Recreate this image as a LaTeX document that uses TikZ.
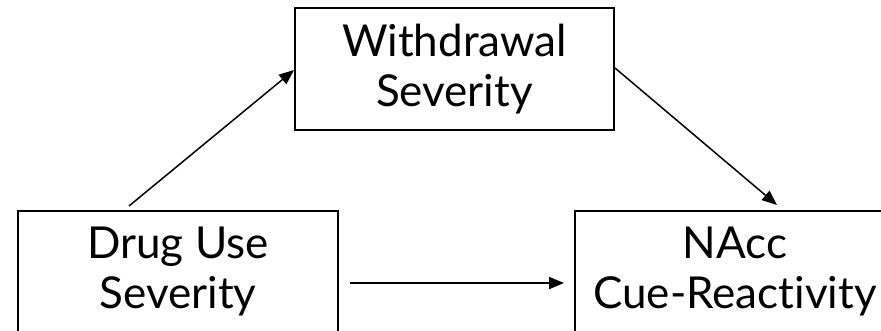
\documentclass[tikz,border=0pt]{standalone}
\usepackage{fontspec}
\setmainfont{Lato}[Ligatures={NoCommon}]
\usetikzlibrary{arrows.meta}
\begin{document}
\begin{tikzpicture}[x=1pt,y=-1pt,
  varbox/.style={draw=black,line width=2pt,minimum width=320pt,minimum height=122pt,
    inner sep=0pt,align=center,font=\fontsize{44}{50}\selectfont},
  link/.style={line width=1.5pt,-{Triangle[length=15pt,width=12pt]}}]
\useasboundingbox (0,0) rectangle (881,330);
\clip (0,0) rectangle (881,330);
\node[varbox,minimum width=319pt] (wd) at (454.5,69) {Withdrawal\\Severity};
\node[varbox] (du) at (178,272) {Drug Use\\Severity};
\node[varbox] (na) at (735,272) {NAcc\\Cue-Reactivity};
\draw[link] ([xshift=112pt,yshift=4pt]du.north west) -- ([yshift=-1pt]wd.west);
\draw[link] ([yshift=1pt]wd.east) -- ([xshift=42pt,yshift=5pt]na.north);
\draw[link,line width=2pt] ([xshift=11pt,yshift=-11pt]du.east) -- ([xshift=-10pt,yshift=-11pt]na.west);
\end{tikzpicture}
\end{document}
